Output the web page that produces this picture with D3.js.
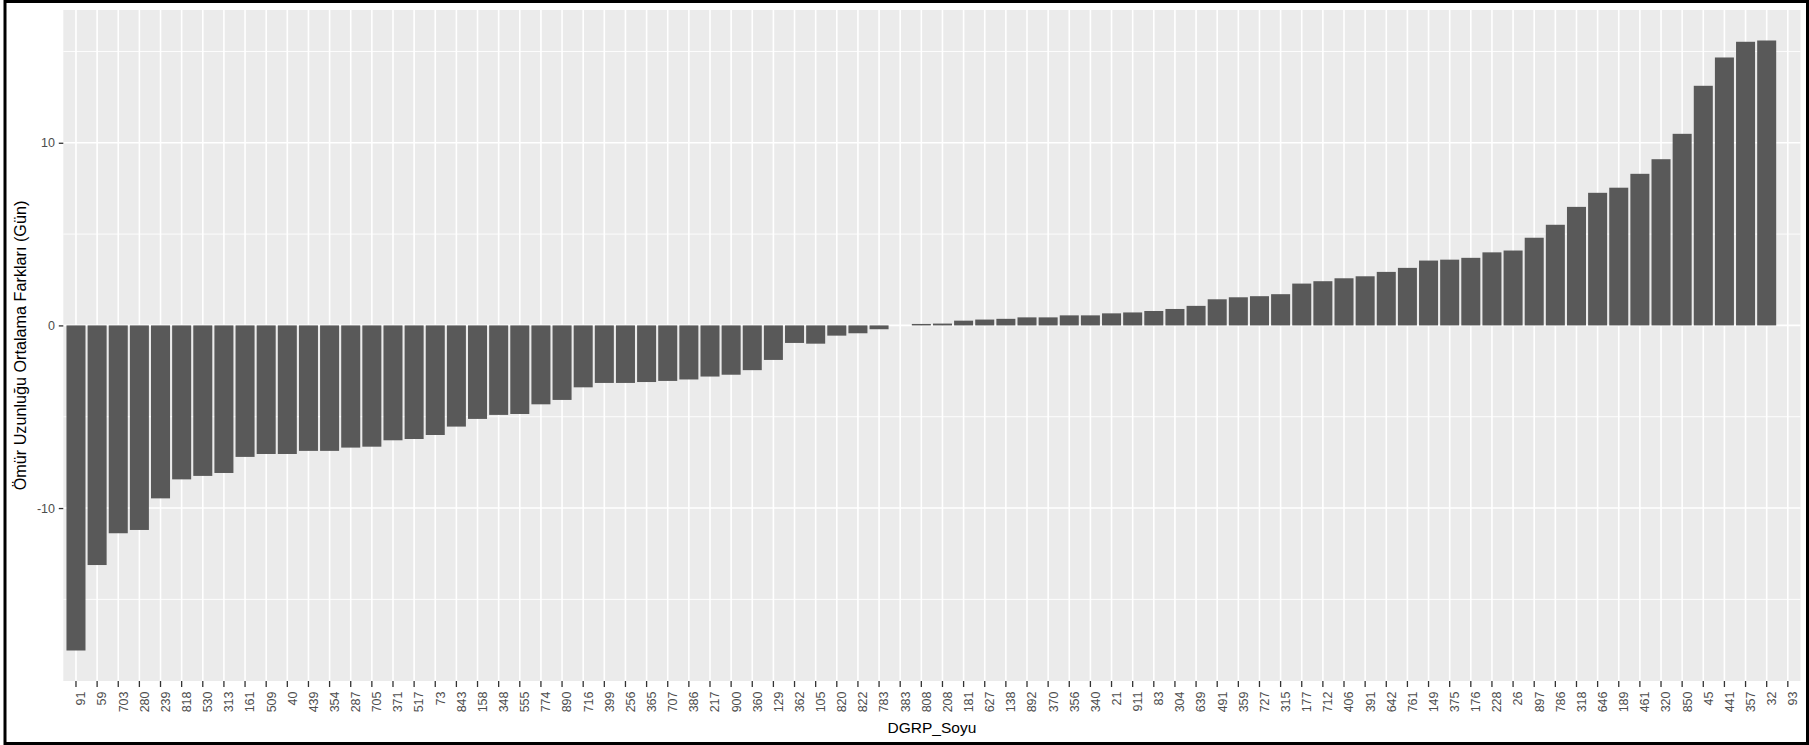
<!DOCTYPE html>
<html>
<head>
<meta charset="utf-8">
<script src="https://cdn.jsdelivr.net/npm/d3@7"></script>
<style>
  body { margin: 0; background: #fff; }
  svg text { font-family: Arial, "Liberation Sans", sans-serif; }
</style>
</head>
<body>
<svg class="chart"></svg>
<script>
// DGRP lines, already sorted by mean lifespan difference
const lines = [
  '91', '59', '703', '280', '239', '818', '530', '313', '161', '509',
  '40', '439', '354', '287', '705', '371', '517', '73', '843', '158',
  '348', '555', '774', '890', '716', '399', '256', '365', '707', '386',
  '217', '900', '360', '129', '362', '105', '820', '822', '783', '383',
  '808', '208', '181', '627', '138', '892', '370', '356', '340', '21',
  '911', '83', '304', '639', '491', '359', '727', '315', '177', '712',
  '406', '391', '642', '761', '149', '375', '176', '228', '26', '897',
  '786', '318', '646', '189', '461', '320', '850', '45', '441', '357',
  '32', '93'
];

// mean lifespan difference (days), null = no bar
const diffs = [
  -17.8, -13.12, -11.38, -11.2, -9.47, -8.43, -8.24, -8.08, -7.2, -7.04,
  -7.04, -6.87, -6.87, -6.69, -6.64, -6.29, -6.22, -6.0, -5.54, -5.12,
  -4.9, -4.85, -4.32, -4.08, -3.39, -3.15, -3.15, -3.1, -3.04, -2.96,
  -2.8, -2.7, -2.45, -1.89, -0.96, -1.0, -0.56, -0.43, -0.21, 0,
  0.08, 0.1, 0.26, 0.32, 0.36, 0.44, 0.44, 0.55, 0.55, 0.66,
  0.71, 0.79, 0.9, 1.07, 1.43, 1.54, 1.6, 1.71, 2.29, 2.42,
  2.58, 2.69, 2.93, 3.15, 3.55, 3.6, 3.7, 4.0, 4.1, 4.8,
  5.51, 6.49, 7.26, 7.54, 8.3, 9.1, 10.49, 13.12, 14.67, 15.53,
  15.6, null
];

const yTicks = [-10, 0, 10];
const yMinorTicks = [-15, -5, 5, 15];
const xTitle = 'DGRP_Soyu';
const yTitle = 'Ömür Uzunluğu Ortalama Farkları (Gün)';

const width = 1809, height = 745;
const panel = { left: 63.3, right: 1800.5, top: 10, bottom: 681 };

const data = lines.map((l, i) => ({ line: l, value: diffs[i] }));

const svg = d3.select('.chart')
  .attr('width', width)
  .attr('height', height);

// outer frame
svg.append('rect')
  .attr('x', 5)
  .attr('y', 1.5)
  .attr('width', 1802.5)
  .attr('height', 742)
  .attr('fill', '#fff')
  .attr('stroke', '#000')
  .attr('stroke-width', 3);

// ggplot style: 0.6 units discrete expansion, 0.9 bar width
const x = d3.scaleBand()
  .domain(lines)
  .range([panel.left, panel.right])
  .paddingInner(0.1)
  .paddingOuter(0.15);

// 5% continuous expansion
const ext = d3.extent(diffs.filter(d => d !== null).concat([0]));
const pad = (ext[1] - ext[0]) * 0.05;
const y = d3.scaleLinear()
  .domain([ext[0] - pad, ext[1] + pad])
  .range([panel.bottom, panel.top]);

// panel background
svg.append('rect')
  .attr('x', panel.left)
  .attr('y', panel.top)
  .attr('width', panel.right - panel.left)
  .attr('height', panel.bottom - panel.top)
  .attr('fill', '#ebebeb');

const grid = svg.append('g');

grid.selectAll('.minor')
  .data(yMinorTicks)
  .enter()
  .append('line')
  .attr('x1', panel.left)
  .attr('x2', panel.right)
  .attr('y1', d => y(d))
  .attr('y2', d => y(d))
  .attr('stroke', '#fff')
  .attr('stroke-width', 0.9);

grid.selectAll('.major-y')
  .data(yTicks)
  .enter()
  .append('line')
  .attr('x1', panel.left)
  .attr('x2', panel.right)
  .attr('y1', d => y(d))
  .attr('y2', d => y(d))
  .attr('stroke', '#fff')
  .attr('stroke-width', 1.6);

grid.selectAll('.major-x')
  .data(lines)
  .enter()
  .append('line')
  .attr('x1', d => x(d) + x.bandwidth() / 2)
  .attr('x2', d => x(d) + x.bandwidth() / 2)
  .attr('y1', panel.top)
  .attr('y2', panel.bottom)
  .attr('stroke', '#fff')
  .attr('stroke-width', 1.6);

// bars
svg.append('g')
  .selectAll('rect')
  .data(data.filter(d => d.value !== null))
  .enter()
  .append('rect')
  .attr('x', d => x(d.line))
  .attr('width', x.bandwidth())
  .attr('y', d => y(Math.max(0, d.value)))
  .attr('height', d => Math.abs(y(d.value) - y(0)))
  .attr('fill', '#595959');

// y axis
const yAxis = svg.append('g')
  .attr('transform', `translate(${panel.left},0)`)
  .call(d3.axisLeft(y)
    .tickValues(yTicks)
    .tickFormat(d => String(d))
    .tickSizeInner(4.5)
    .tickSizeOuter(0)
    .tickPadding(3.8));

yAxis.select('.domain').remove();
yAxis.selectAll('line').attr('stroke', '#333').attr('stroke-width', 1.3);
yAxis.selectAll('text')
  .attr('fill', '#4d4d4d')
  .style('font-size', '12.5px');

// x axis, labels turned 90 degrees
const xAxis = svg.append('g')
  .attr('transform', `translate(0,${panel.bottom})`)
  .call(d3.axisBottom(x)
    .tickSizeInner(6)
    .tickSizeOuter(0));

xAxis.select('.domain').remove();
xAxis.selectAll('line').attr('stroke', '#333').attr('stroke-width', 1.3);
xAxis.selectAll('text')
  .attr('x', 0)
  .attr('y', 0)
  .attr('dy', '0.35em')
  .attr('text-anchor', 'end')
  .attr('transform', 'translate(5,10.5) rotate(-90)')
  .attr('fill', '#4d4d4d')
  .style('font-size', '12.5px');

// axis titles
svg.append('text')
  .attr('x', (panel.left + panel.right) / 2)
  .attr('y', 733)
  .attr('text-anchor', 'middle')
  .style('font-size', '15.5px')
  .attr('fill', '#000')
  .text(xTitle);

svg.append('text')
  .attr('transform', `translate(25.5,${(panel.top + panel.bottom) / 2}) rotate(-90)`)
  .attr('text-anchor', 'middle')
  .style('font-size', '16.2px')
  .attr('fill', '#000')
  .text(yTitle);
</script>
</body>
</html>
